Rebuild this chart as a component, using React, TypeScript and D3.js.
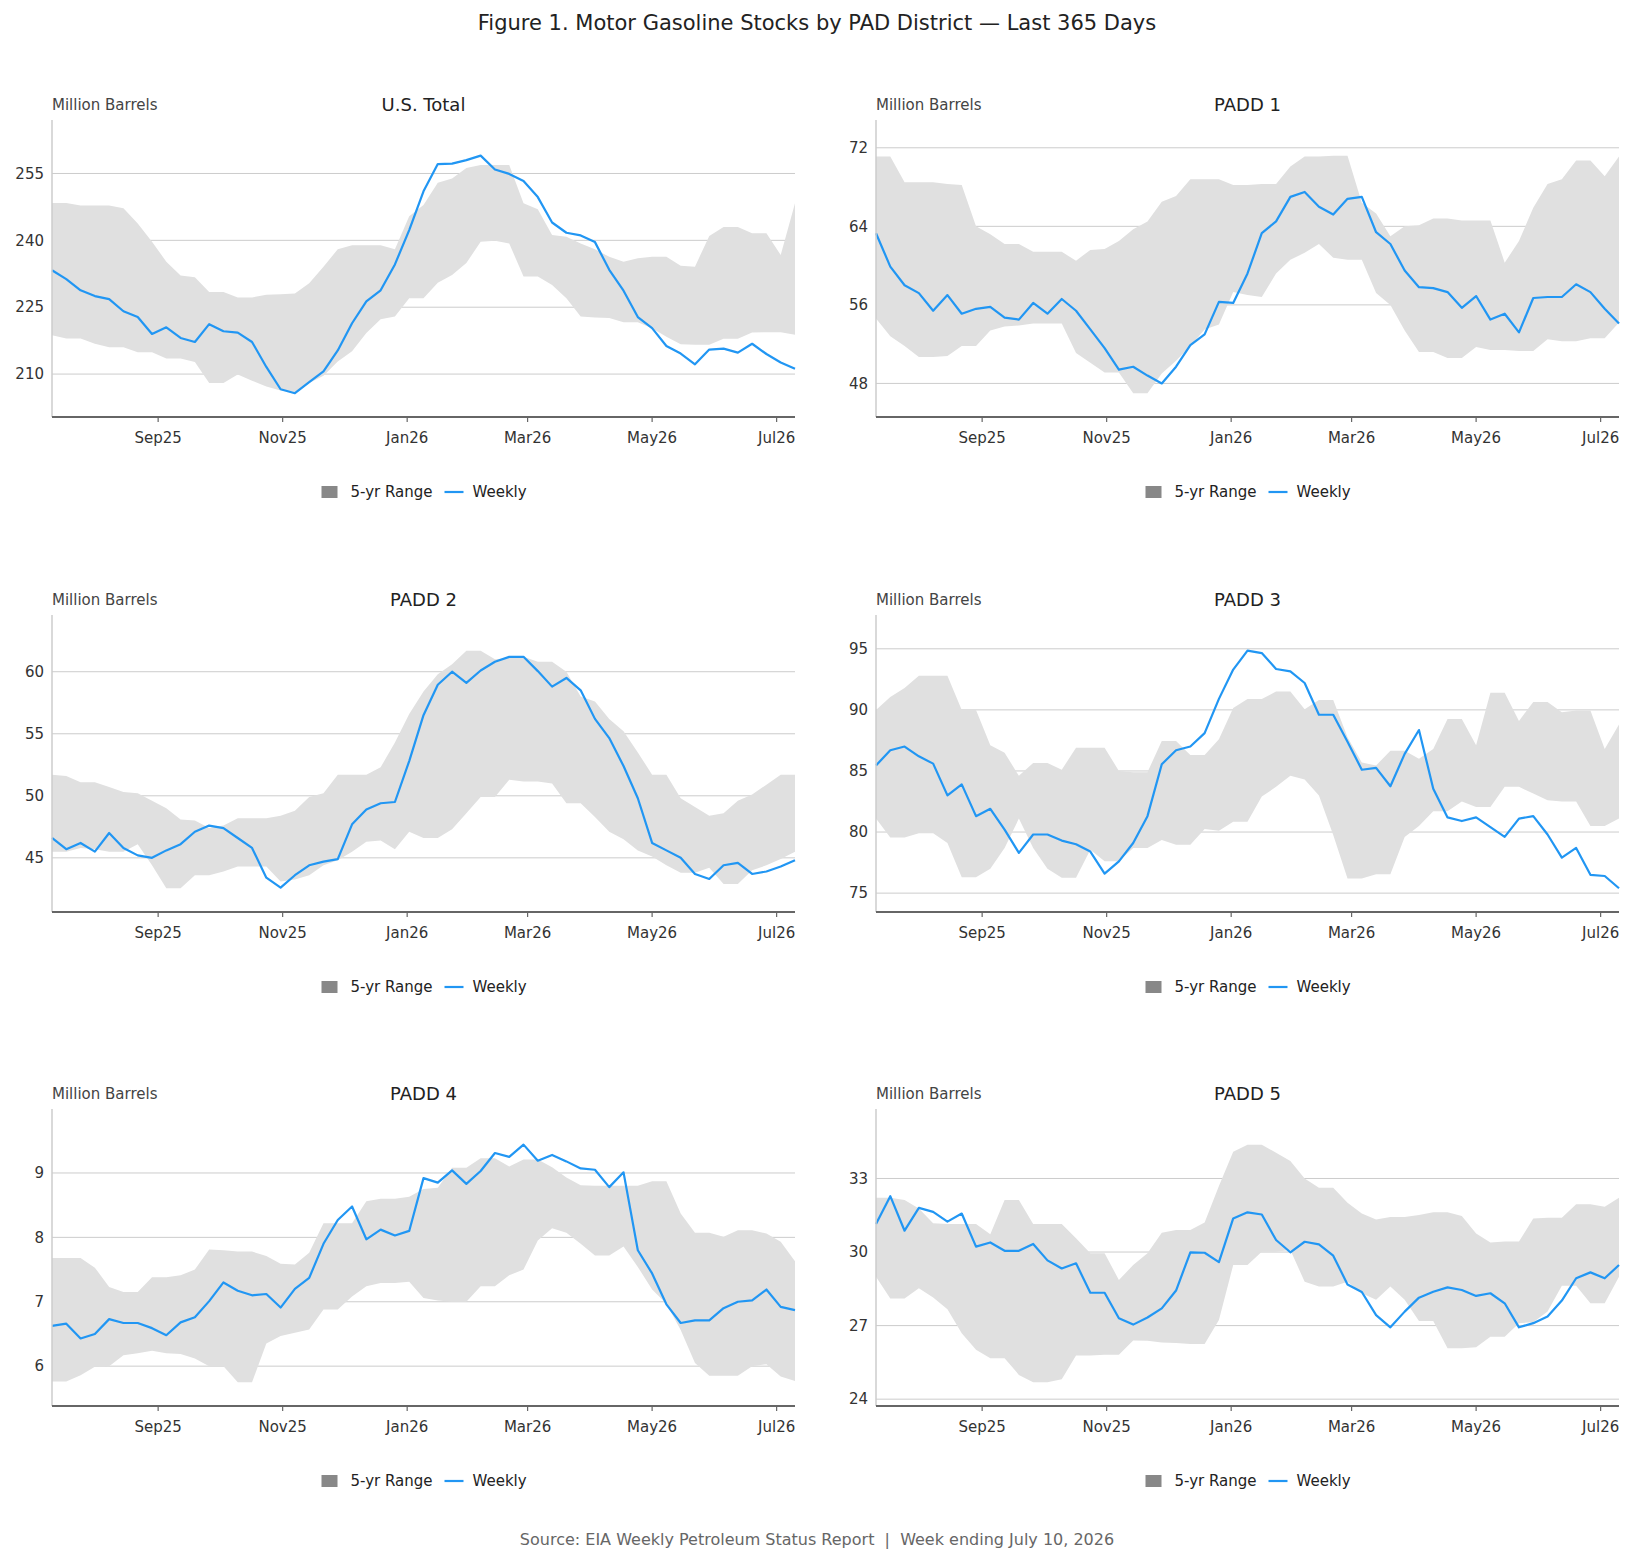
import React from "react";
import * as d3 from "d3";

// weekly report dates (week ending Friday), Jul 11 2025 .. Jul 10 2026
const firstWeek = new Date(2025, 6, 11);
const weeks = d3.range(53).map((i) => d3.timeDay.offset(firstWeek, i * 7));

const monthTicks = [
  new Date(2025, 8, 1),
  new Date(2025, 10, 1),
  new Date(2026, 0, 1),
  new Date(2026, 2, 1),
  new Date(2026, 4, 1),
  new Date(2026, 6, 1),
];
const monthLabels = ["Sep25", "Nov25", "Jan26", "Mar26", "May26", "Jul26"];

// ---- U.S. Total
const usWeekly = [233.3, 231.3, 228.8, 227.5, 226.8, 224.1, 222.8, 219.0, 220.5, 218.1, 217.2, 221.2, 219.6, 219.3, 217.2, 211.6, 206.6, 205.7, 208.2, 210.6, 215.3, 221.4, 226.3, 228.8, 234.6, 242.3, 251.0, 257.1, 257.2, 258.0, 259.0, 255.9, 254.9, 253.3, 249.7, 244.0, 241.7, 241.1, 239.6, 233.4, 228.7, 222.8, 220.3, 216.3, 214.6, 212.2, 215.5, 215.7, 214.8, 216.8, 214.5, 212.6, 211.2];
const usHigh = [248.4, 248.4, 247.8, 247.8, 247.8, 247.2, 243.8, 239.7, 235.2, 232.1, 231.7, 228.4, 228.4, 227.2, 227.2, 227.8, 227.9, 228.1, 230.4, 234.1, 238.0, 238.9, 238.9, 238.9, 238.0, 245.4, 247.9, 252.9, 253.9, 256.2, 256.9, 256.9, 256.9, 248.3, 247.0, 241.2, 240.8, 239.3, 238.0, 236.3, 235.2, 236.0, 236.3, 236.3, 234.3, 234.1, 241.0, 243.0, 243.0, 241.6, 241.6, 236.7, 248.3];
const usLow = [218.7, 218.0, 218.0, 216.8, 216.0, 216.0, 214.9, 214.9, 213.5, 213.5, 212.7, 208.0, 208.0, 209.9, 208.5, 207.2, 206.3, 206.0, 208.0, 209.6, 212.8, 215.1, 219.2, 222.3, 222.9, 227.0, 227.0, 230.5, 232.2, 234.9, 239.7, 239.9, 239.3, 231.9, 231.9, 230.0, 227.0, 222.9, 222.7, 222.6, 221.6, 221.6, 220.3, 218.4, 216.7, 216.6, 216.6, 217.9, 217.9, 219.3, 219.4, 219.4, 218.8];

// ---- PADD 1
const p1Weekly = [63.3, 59.9, 58.0, 57.2, 55.4, 57.0, 55.1, 55.6, 55.8, 54.7, 54.5, 56.2, 55.1, 56.6, 55.4, 53.5, 51.6, 49.4, 49.7, 48.8, 48.0, 49.7, 51.9, 53.0, 56.3, 56.2, 59.2, 63.3, 64.5, 67.0, 67.5, 66.0, 65.2, 66.8, 67.0, 63.4, 62.2, 59.5, 57.8, 57.7, 57.3, 55.7, 56.9, 54.5, 55.1, 53.2, 56.7, 56.8, 56.8, 58.1, 57.3, 55.6, 54.1];
const p1High = [71.1, 71.1, 68.5, 68.5, 68.5, 68.3, 68.2, 64.0, 63.2, 62.2, 62.2, 61.4, 61.4, 61.4, 60.5, 61.6, 61.7, 62.5, 63.7, 64.5, 66.5, 67.1, 68.8, 68.8, 68.8, 68.2, 68.2, 68.3, 68.3, 70.1, 71.1, 71.1, 71.2, 71.2, 66.4, 65.3, 63.0, 64.0, 64.1, 64.8, 64.8, 64.6, 64.6, 64.6, 60.3, 62.5, 65.9, 68.3, 68.8, 70.7, 70.7, 69.1, 71.1];
const p1Low = [54.6, 52.8, 51.8, 50.7, 50.7, 50.8, 51.8, 51.8, 53.4, 53.8, 53.9, 54.1, 54.1, 54.1, 51.1, 50.1, 49.1, 49.1, 47.0, 47.0, 49.0, 50.3, 51.8, 53.5, 54.0, 57.3, 57.0, 56.8, 59.2, 60.6, 61.3, 62.2, 60.8, 60.6, 60.6, 57.2, 56.0, 53.4, 51.2, 51.2, 50.6, 50.6, 51.7, 51.4, 51.4, 51.3, 51.3, 52.5, 52.3, 52.3, 52.6, 52.6, 54.2];

// ---- PADD 2
const p2Weekly = [46.6, 45.7, 46.2, 45.5, 47.0, 45.8, 45.2, 45.0, 45.6, 46.1, 47.1, 47.6, 47.4, 46.6, 45.8, 43.4, 42.6, 43.6, 44.4, 44.7, 44.9, 47.7, 48.9, 49.4, 49.5, 52.8, 56.5, 58.95, 60.0, 59.1, 60.1, 60.8, 61.2, 61.2, 60.05, 58.8, 59.5, 58.5, 56.2, 54.65, 52.4, 49.8, 46.2, 45.6, 45.0, 43.7, 43.3, 44.4, 44.6, 43.7, 43.9, 44.3, 44.8];
const p2High = [51.7, 51.6, 51.1, 51.1, 50.7, 50.3, 50.2, 49.6, 49.0, 48.1, 48.0, 47.4, 47.6, 48.2, 48.2, 48.2, 48.4, 48.8, 49.9, 50.2, 51.7, 51.7, 51.7, 52.3, 54.3, 56.6, 58.4, 59.8, 60.6, 61.7, 61.7, 61.0, 61.1, 61.2, 60.8, 60.8, 60.0, 58.0, 57.6, 56.2, 55.2, 53.5, 51.7, 51.7, 49.8, 49.1, 48.4, 48.6, 49.6, 50.1, 50.9, 51.7, 51.7];
const p2Low = [45.5, 45.5, 45.8, 45.7, 45.5, 45.5, 46.1, 44.4, 42.55, 42.55, 43.6, 43.6, 43.9, 44.3, 44.3, 44.3, 43.1, 43.25, 43.6, 44.4, 44.8, 45.5, 46.3, 46.4, 45.7, 47.1, 46.6, 46.6, 47.3, 48.6, 49.9, 49.9, 51.3, 51.15, 51.15, 51.0, 49.4, 49.4, 48.3, 47.1, 46.5, 45.6, 45.1, 44.4, 43.8, 43.8, 44.2, 42.9, 42.9, 44.0, 44.4, 44.9, 45.5];

// ---- PADD 3
const p3Weekly = [85.45, 86.7, 87.0, 86.2, 85.6, 83.0, 83.9, 81.3, 81.9, 80.2, 78.3, 79.8, 79.8, 79.3, 79.0, 78.4, 76.6, 77.6, 79.1, 81.3, 85.55, 86.7, 87.0, 88.1, 90.9, 93.3, 94.85, 94.65, 93.35, 93.15, 92.2, 89.6, 89.6, 87.4, 85.1, 85.25, 83.75, 86.4, 88.35, 83.55, 81.2, 80.9, 81.2, 80.4, 79.6, 81.1, 81.3, 79.8, 77.9, 78.7, 76.5, 76.4, 75.4];
const p3High = [90.0, 91.05, 91.8, 92.8, 92.8, 92.8, 90.0, 90.0, 87.1, 86.5, 84.6, 85.65, 85.65, 85.1, 86.9, 86.9, 86.9, 85.0, 84.9, 84.9, 87.45, 87.45, 86.3, 86.3, 87.6, 90.15, 90.9, 90.9, 91.5, 91.5, 90.05, 90.8, 90.8, 87.75, 85.7, 85.45, 86.65, 86.65, 86.0, 86.8, 89.25, 89.25, 87.1, 91.4, 91.4, 89.1, 90.65, 90.65, 89.8, 89.95, 89.95, 86.8, 88.8];
const p3Low = [81.1, 79.55, 79.55, 79.9, 79.9, 79.1, 76.3, 76.3, 77.0, 78.7, 81.1, 78.7, 77.0, 76.25, 76.25, 78.55, 77.6, 77.6, 78.7, 78.7, 79.35, 78.95, 78.95, 80.25, 80.1, 80.85, 80.85, 82.9, 83.7, 84.6, 84.3, 83.0, 79.75, 76.2, 76.2, 76.55, 76.55, 79.6, 80.5, 81.7, 81.7, 82.5, 82.05, 82.05, 83.7, 83.7, 83.15, 82.6, 82.5, 82.5, 80.5, 80.5, 81.1];

// ---- PADD 4
const p4Weekly = [6.625, 6.66, 6.43, 6.5, 6.73, 6.67, 6.67, 6.59, 6.48, 6.68, 6.76, 7.01, 7.3, 7.17, 7.1, 7.12, 6.91, 7.2, 7.37, 7.9, 8.27, 8.48, 7.97, 8.12, 8.03, 8.1, 8.92, 8.85, 9.04, 8.83, 9.03, 9.31, 9.25, 9.44, 9.19, 9.28, 9.18, 9.07, 9.05, 8.78, 9.01, 7.8, 7.44, 6.96, 6.67, 6.71, 6.71, 6.9, 7.0, 7.02, 7.19, 6.92, 6.87];
const p4High = [7.68, 7.68, 7.68, 7.53, 7.23, 7.15, 7.15, 7.38, 7.38, 7.41, 7.5, 7.81, 7.8, 7.78, 7.78, 7.71, 7.59, 7.58, 7.76, 8.22, 8.22, 8.22, 8.56, 8.6, 8.6, 8.63, 8.75, 8.77, 9.08, 9.08, 9.23, 9.23, 9.1, 9.21, 9.21, 9.09, 8.93, 8.81, 8.8, 8.8, 8.8, 8.8, 8.87, 8.87, 8.37, 8.07, 8.07, 8.01, 8.11, 8.11, 8.06, 7.93, 7.63];
const p4Low = [5.76, 5.76, 5.86, 5.99, 6.0, 6.17, 6.2, 6.24, 6.2, 6.19, 6.12, 6.0, 6.0, 5.75, 5.75, 6.35, 6.47, 6.52, 6.57, 6.88, 6.88, 7.08, 7.24, 7.29, 7.29, 7.31, 7.06, 7.02, 7.0, 7.0, 7.24, 7.24, 7.41, 7.5, 7.95, 8.14, 8.07, 7.9, 7.72, 7.72, 7.86, 7.54, 7.19, 6.97, 6.56, 6.05, 5.85, 5.85, 5.85, 6.0, 6.03, 5.84, 5.77];

// ---- PADD 5
const p5Weekly = [31.14, 32.28, 30.87, 31.8, 31.64, 31.24, 31.57, 30.22, 30.39, 30.05, 30.05, 30.33, 29.66, 29.33, 29.54, 28.34, 28.34, 27.3, 27.04, 27.33, 27.7, 28.43, 29.99, 29.97, 29.59, 31.37, 31.62, 31.53, 30.49, 29.99, 30.42, 30.31, 29.85, 28.68, 28.37, 27.43, 26.93, 27.57, 28.14, 28.38, 28.56, 28.45, 28.21, 28.32, 27.91, 26.93, 27.1, 27.37, 28.02, 28.93, 29.17, 28.93, 29.47];
const p5High = [32.21, 32.21, 32.12, 31.78, 31.17, 31.14, 31.14, 31.14, 30.73, 32.12, 32.12, 31.14, 31.14, 31.14, 30.56, 29.95, 29.95, 28.86, 29.47, 29.95, 30.79, 30.9, 30.9, 31.2, 32.69, 34.09, 34.38, 34.38, 34.05, 33.71, 33.0, 32.62, 32.62, 32.01, 31.57, 31.33, 31.43, 31.43, 31.51, 31.62, 31.62, 31.47, 30.76, 30.39, 30.43, 30.43, 31.37, 31.4, 31.4, 31.95, 31.95, 31.85, 32.21];
const p5Low = [28.99, 28.11, 28.11, 28.52, 28.15, 27.67, 26.69, 26.01, 25.67, 25.67, 24.99, 24.69, 24.69, 24.81, 25.78, 25.78, 25.81, 25.81, 26.39, 26.38, 26.31, 26.29, 26.25, 26.25, 27.23, 29.47, 29.47, 30.01, 30.01, 30.08, 28.79, 28.59, 28.59, 28.79, 28.32, 28.05, 28.59, 28.05, 27.19, 27.19, 26.08, 26.08, 26.12, 26.55, 26.55, 27.1, 27.14, 27.57, 28.63, 28.63, 27.91, 27.91, 28.99];

const panels = [
  { title: "U.S. Total", weekly: usWeekly, high: usHigh, low: usLow, ticks: [210, 225, 240, 255] },
  { title: "PADD 1", weekly: p1Weekly, high: p1High, low: p1Low, ticks: [48, 56, 64, 72] },
  { title: "PADD 2", weekly: p2Weekly, high: p2High, low: p2Low, ticks: [45, 50, 55, 60] },
  { title: "PADD 3", weekly: p3Weekly, high: p3High, low: p3Low, ticks: [75, 80, 85, 90, 95] },
  { title: "PADD 4", weekly: p4Weekly, high: p4High, low: p4Low, ticks: [6, 7, 8, 9] },
  { title: "PADD 5", weekly: p5Weekly, high: p5High, low: p5Low, ticks: [24, 27, 30, 33] },
];

const W = 1634;
const H = 1564;
const FONT = "'DejaVu Sans', sans-serif";
const BAND = "#e0e0e0";
const LINE = "#2196f3";

// panel frames
const colX = [52, 876];
const rowY = [120, 615, 1109];
const plotW = 743;
const plotH = 297;

function Panel({ p, x0, y0 }) {
  const x = d3.scaleTime().domain(d3.extent(weeks)).range([0, plotW]);
  const lo = d3.min([...p.low, ...p.weekly]);
  const hi = d3.max([...p.high, ...p.weekly]);
  const span = hi - lo;
  // 10% headroom below, 15% above
  const y = d3.scaleLinear().domain([lo - span * 0.1, hi + span * 0.15]).range([plotH, 0]);

  const area = d3.area()
    .x((_, i) => x(weeks[i]))
    .y0((_, i) => y(p.low[i]))
    .y1((_, i) => y(p.high[i]));
  const line = d3.line()
    .x((_, i) => x(weeks[i]))
    .y((d) => y(d));

  const cx = plotW / 2;
  return (
    <g transform={`translate(${x0},${y0})`}>
      <text x={0} y={-15} dy="0.35em" fontSize={15} fill="#444">Million Barrels</text>
      <text x={cx} y={-15} dy="0.35em" fontSize={18} fill="#222" textAnchor="middle">{p.title}</text>
      {p.ticks.map((t) => (
        <g key={t}>
          <line x1={0} x2={plotW} y1={y(t)} y2={y(t)} stroke="#cccccc" strokeWidth={1} />
          <text x={-8} y={y(t)} dy="0.35em" fontSize={15} fill="#333" textAnchor="end">{t}</text>
        </g>
      ))}
      <path d={area(p.low)} fill={BAND} />
      <path d={line(p.weekly)} fill="none" stroke={LINE} strokeWidth={2.2} strokeLinejoin="round" />
      <line x1={0} x2={0} y1={0} y2={plotH} stroke="#cccccc" strokeWidth={1.5} />
      <line x1={0} x2={plotW} y1={plotH} y2={plotH} stroke="#666" strokeWidth={2} />
      {monthTicks.map((d, i) => (
        <g key={monthLabels[i]} transform={`translate(${x(d)},${plotH})`}>
          <line y1={0} y2={5} stroke="#666" strokeWidth={1.2} />
          <text y={21} dy="0.35em" fontSize={15} fill="#333" textAnchor="middle">{monthLabels[i]}</text>
        </g>
      ))}
      <g transform={`translate(${cx},${plotH + 75})`}>
        <rect x={-102} y={-6} width={16} height={12} fill="#888" />
        <text x={-73} y={0} dy="0.35em" fontSize={15} fill="#222">5-yr Range</text>
        <line x1={21} x2={40} y1={0} y2={0} stroke={LINE} strokeWidth={2.2} />
        <text x={49} y={0} dy="0.35em" fontSize={15} fill="#222">Weekly</text>
      </g>
    </g>
  );
}

export default function App() {
  return (
    <svg width={W} height={H} style={{ position: "absolute", left: 0, top: 0, background: "#fff" }} fontFamily={FONT}>
      <rect width={W} height={H} fill="#fff" />
      <text x={W / 2} y={23} dy="0.35em" fontSize={21} fill="#222" textAnchor="middle">
        Figure 1. Motor Gasoline Stocks by PAD District — Last 365 Days
      </text>
      {panels.map((p, i) => (
        <Panel key={p.title} p={p} x0={colX[i % 2]} y0={rowY[Math.floor(i / 2)]} />
      ))}
      <text x={W / 2} y={1539} dy="0.35em" fontSize={16} fill="#666" textAnchor="middle" style={{ whiteSpace: "pre" }}>
        {"Source: EIA Weekly Petroleum Status Report  |  Week ending July 10, 2026"}
      </text>
    </svg>
  );
}
